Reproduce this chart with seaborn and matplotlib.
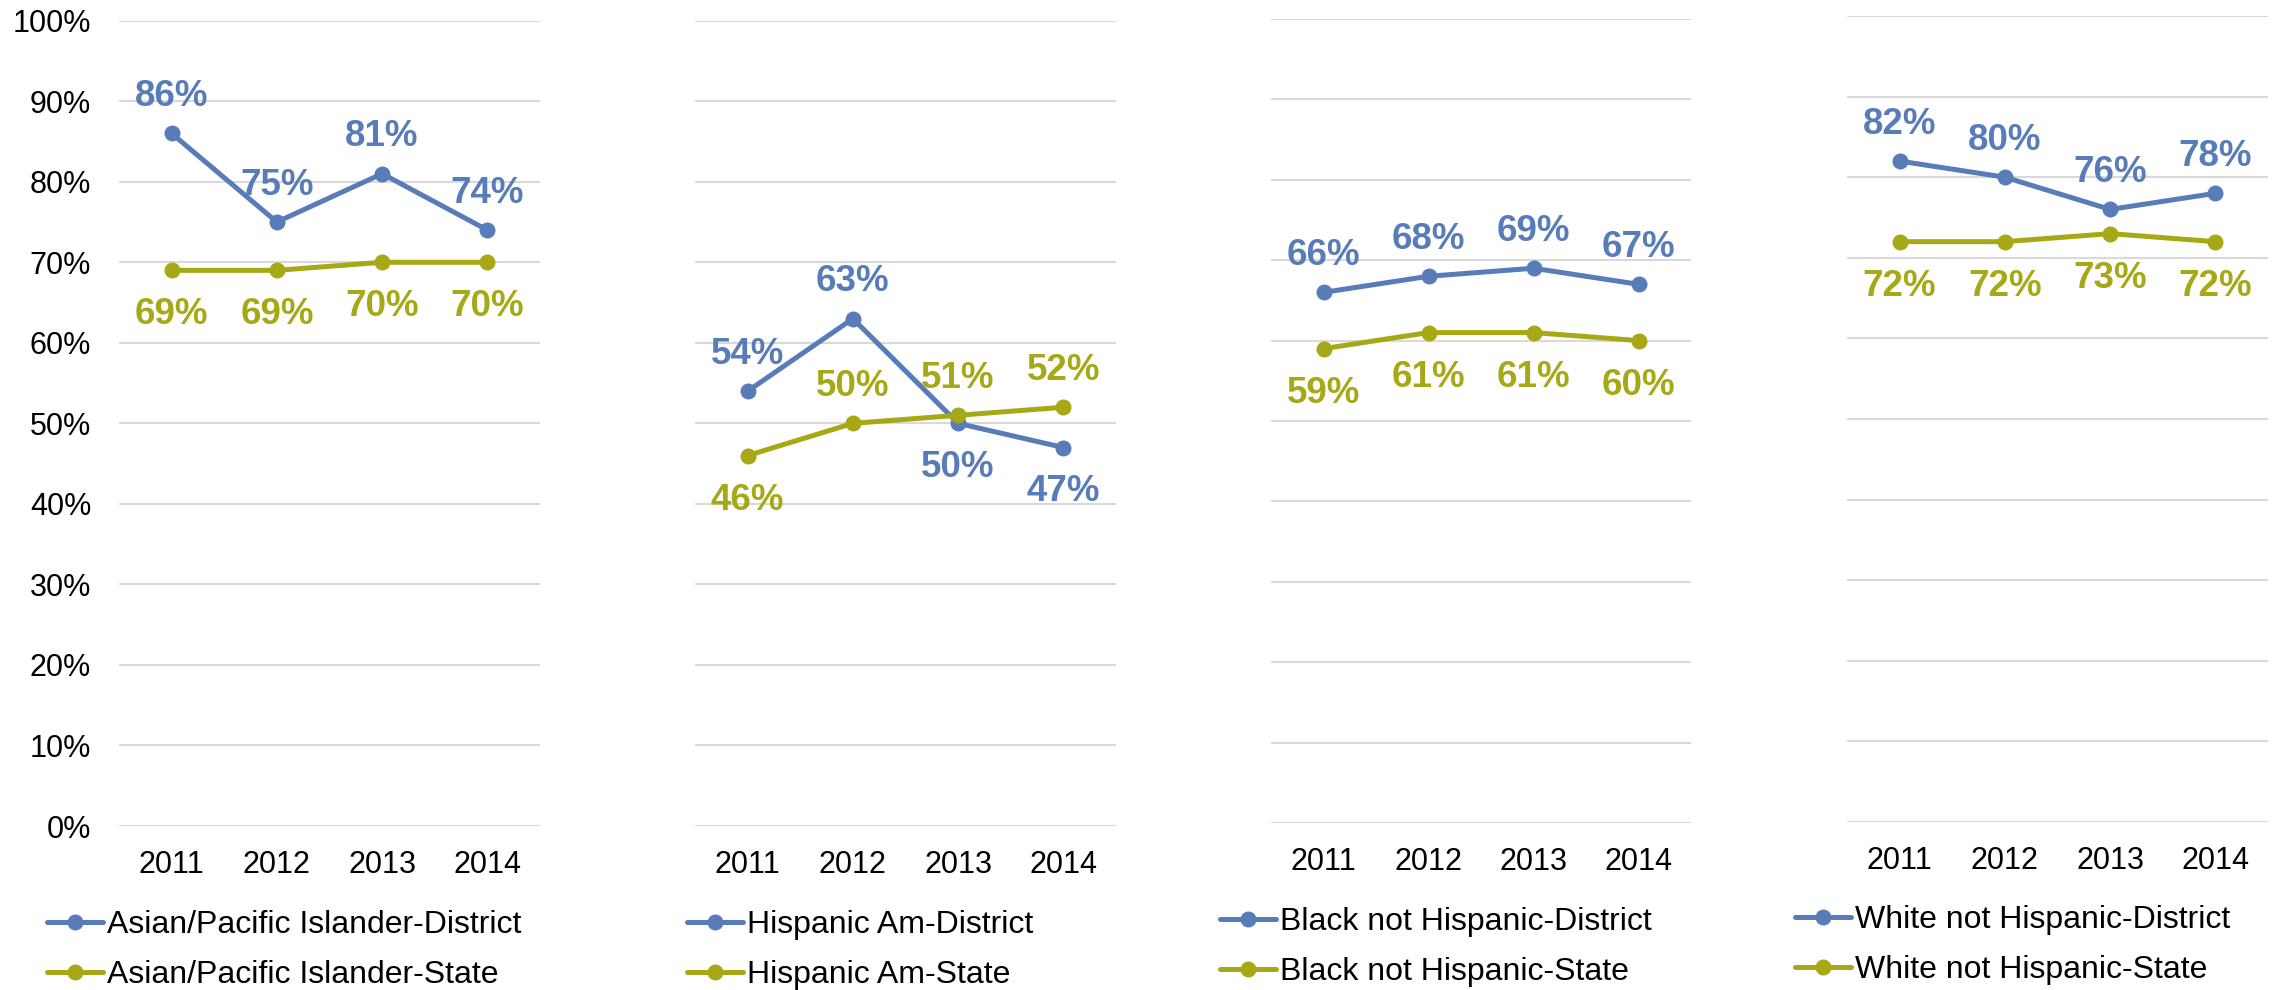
import numpy as np
import pandas as pd
import matplotlib
matplotlib.use("Agg")
import matplotlib.pyplot as plt
from matplotlib.ticker import PercentFormatter
import seaborn as sns

# ---- data ----
years = ["2011", "2012", "2013", "2014"]

asian_district = [86, 75, 81, 74]
asian_state = [69, 69, 70, 70]
hispanic_district = [54, 63, 50, 47]
hispanic_state = [46, 50, 51, 52]
black_district = [66, 68, 69, 67]
black_state = [59, 61, 61, 60]
white_district = [82, 80, 76, 78]
white_state = [72, 72, 73, 72]

series_names = [
    ("Asian/Pacific Islander-District", "Asian/Pacific Islander-State"),
    ("Hispanic Am-District", "Hispanic Am-State"),
    ("Black not Hispanic-District", "Black not Hispanic-State"),
    ("White not Hispanic-District", "White not Hispanic-State"),
]
panel_values = [
    (asian_district, asian_state),
    (hispanic_district, hispanic_state),
    (black_district, black_state),
    (white_district, white_state),
]
# label placement: +1 above, -1 below
label_side = [
    ([1, 1, 1, 1], [-1, -1, -1, -1]),
    ([1, 1, -1, -1], [-1, 1, 1, 1]),
    ([1, 1, 1, 1], [-1, -1, -1, -1]),
    ([1, 1, 1, 1], [-1, -1, -1, -1]),
]

BLUE = "#587CB7"
OLIVE = "#A6A815"
GRID = "#d9d9d9"

sns.set_theme(style="white")
plt.rcParams["font.family"] = ["Liberation Sans", "DejaVu Sans"]
plt.rcParams["text.color"] = "black"
plt.rcParams["xtick.color"] = "black"
plt.rcParams["ytick.color"] = "black"
plt.rcParams["legend.labelcolor"] = "black"

W, H = 2282, 990
fig = plt.figure(figsize=(W / 100, H / 100), dpi=100)

# panel geometry in pixels: (left, right, top(100%), bottom(0%))
panels_px = [
    (119, 540, 20.7, 826),
    (695, 1116, 20.7, 826),
    (1271, 1691, 19, 823),
    (1847, 2268, 16, 822),
]
legend_px = [(47, 910), (687, 910), (1220, 907), (1795, 905)]

for i, ((l, r, t, b), (dn, sn), (dv, sv), (dside, sside)) in enumerate(
        zip(panels_px, series_names, panel_values, label_side)):
    ax = fig.add_axes([l / W, 1 - b / H, (r - l) / W, (b - t) / H])
    df = pd.DataFrame({
        "Year": years * 2,
        "Value": list(dv) + list(sv),
        "Series": [dn] * len(years) + [sn] * len(years),
    })
    sns.lineplot(data=df, x="Year", y="Value", hue="Series",
                 hue_order=[dn, sn], palette=[BLUE, OLIVE],
                 marker="o", markersize=11.5, markeredgewidth=0,
                 linewidth=3.6, ax=ax, legend=True, sort=False)
    ax.set_xlim(-0.5, 3.5)
    ax.set_ylim(0, 100)
    ax.set_yticks(np.arange(0, 101, 10))
    ax.yaxis.set_major_formatter(PercentFormatter(100, decimals=0))
    ax.set_axisbelow(True)
    ax.grid(axis="y", color=GRID, linewidth=1.5)
    ax.grid(axis="x", visible=False)
    for s in ax.spines.values():
        s.set_visible(False)
    ax.set_xlabel("")
    ax.set_ylabel("")
    ax.tick_params(axis="x", length=0, labelsize=22, pad=17, colors="black")
    ax.tick_params(axis="y", length=0, labelsize=22, pad=20, colors="black")
    if i > 0:
        ax.tick_params(axis="y", labelleft=False)

    for vals, sides, col in ((dv, dside, BLUE), (sv, sside, OLIVE)):
        for xi, (v, sd) in enumerate(zip(vals, sides)):
            off = 26.5 if sd > 0 else -32
            ax.annotate(f"{v:.0f}%", xy=(xi, v), xytext=(0, off),
                        textcoords="offset points", ha="center", va="center",
                        fontsize=26.5, fontweight="bold", color=col)

    handles, labels = ax.get_legend_handles_labels()
    leg_old = ax.get_legend()
    if leg_old is not None:
        leg_old.remove()
    lx, ly = legend_px[i]
    ax.legend(handles, labels, loc="upper left",
              bbox_to_anchor=(lx / W, 1 - ly / H),
              bbox_transform=fig.transFigure, frameon=False,
              fontsize=23, handlelength=1.75, handletextpad=0.12,
              labelspacing=0.62, borderpad=0, borderaxespad=0,
              labelcolor="black")

fig.savefig("out.png", dpi=100, facecolor="white")
